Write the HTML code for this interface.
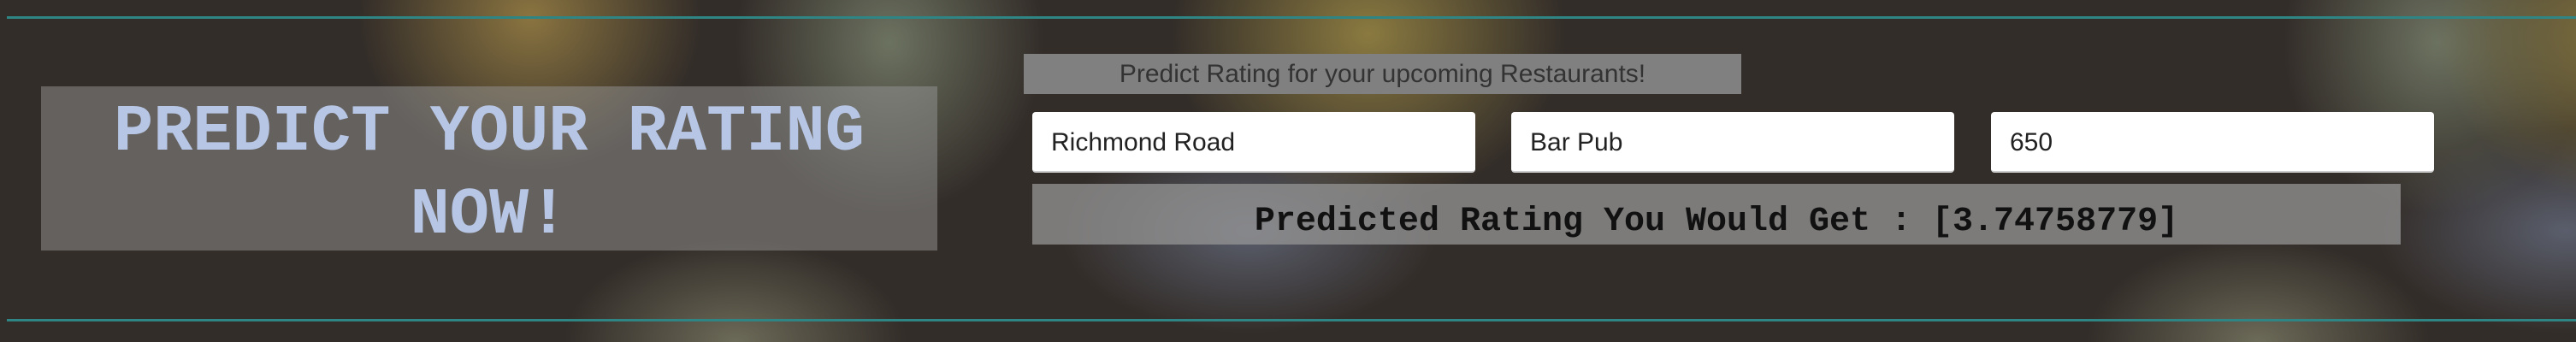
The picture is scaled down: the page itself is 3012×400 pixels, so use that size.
<!DOCTYPE html>
<html><head><meta charset="utf-8"><style>
html,body{margin:0;padding:0}
body{width:3012px;height:400px;overflow:hidden;position:relative;background:#3b3430;font-family:"Liberation Sans",sans-serif}
.bg{position:absolute;inset:0;background:
radial-gradient(ellipse 230px 200px at 1600px 40px,#8a7a40 0%,rgba(0,0,0,0) 100%),
radial-gradient(ellipse 230px 200px at 3080px 40px,#8a7a40 0%,rgba(0,0,0,0) 100%),
radial-gradient(ellipse 200px 180px at 620px 20px,#8a7440 0%,rgba(0,0,0,0) 100%),
radial-gradient(ellipse 180px 200px at 1040px 50px,#6c7260 0%,rgba(0,0,0,0) 100%),
radial-gradient(ellipse 180px 200px at 2850px 50px,#6c7260 0%,rgba(0,0,0,0) 100%),
radial-gradient(ellipse 200px 120px at 860px 400px,#6c6a58 0%,rgba(0,0,0,0) 100%),
radial-gradient(ellipse 200px 120px at 2640px 400px,#6c6a58 0%,rgba(0,0,0,0) 100%),
radial-gradient(ellipse 220px 120px at 1460px 270px,#5a5e6c 0%,rgba(0,0,0,0) 100%),
radial-gradient(ellipse 220px 120px at 3000px 270px,#5a5e6c 0%,rgba(0,0,0,0) 100%),
#332d29}
.line{position:absolute;left:8px;right:0;height:3px;background:#2f8584}
.box{position:absolute;left:48px;top:101px;width:1048px;height:186px;padding-top:6px;background:rgba(150,150,150,0.5);text-align:center;color:#b7c6e4;font-family:"Liberation Mono",monospace;font-weight:bold;font-size:77px;line-height:97px}
.hdr{position:absolute;left:1197px;top:63px;width:839px;height:47px;background:#808080;color:#333;font-size:30px;line-height:47px;text-align:center}
.in{position:absolute;top:131px;width:518px;height:71px;background:#fff;border-radius:4px;box-sizing:border-box;padding-left:22px;font-size:30px;line-height:71px;color:#222;border-bottom:2px solid #ccc}
.res{position:absolute;left:1207px;top:215px;width:1600px;height:71px;background:rgba(150,150,150,0.75);text-align:center;font-family:"Liberation Mono",monospace;font-weight:bold;font-size:40px;line-height:90px;color:#111}
</style></head><body>
<div class="bg"></div>
<div class="line" style="top:19px"></div>
<div class="line" style="top:373px"></div>
<div class="box">PREDICT YOUR RATING<br>NOW!</div>
<div class="hdr">Predict Rating for your upcoming Restaurants!</div>
<div class="in" style="left:1207px">Richmond Road</div>
<div class="in" style="left:1767px">Bar Pub</div>
<div class="in" style="left:2328px">650</div>
<div class="res">Predicted Rating You Would Get : [3.74758779]</div>
</body></html>
